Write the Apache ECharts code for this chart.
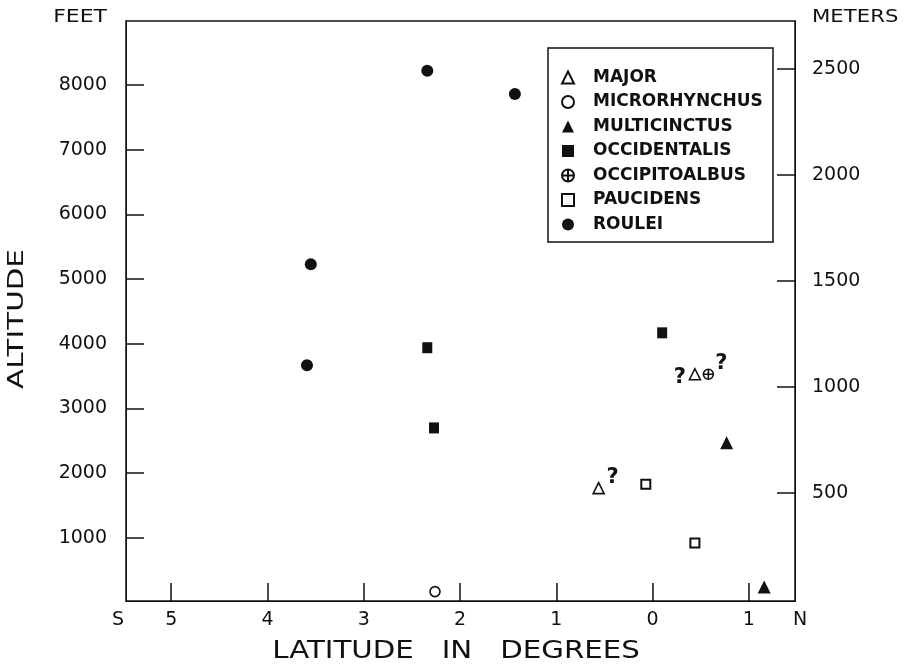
<!DOCTYPE html>
<html>
<head>
<meta charset="utf-8">
<script src="https://cdn.jsdelivr.net/npm/echarts@6/dist/echarts.min.js"></script>
<style>html,body{margin:0;padding:0;background:#fff}#c{width:910px;height:672px}</style>
</head>
<body>
<div id="c"></div>
<script>
// ---- data (latitude in degrees, N positive / S negative; altitude in feet) ----
const majorLat = [0.44, -0.56];
const majorFt = [3530, 1770];
const majorQueried = [true, true];
const microLat = [-2.26];
const microFt = [170];
const multiLat = [0.77, 1.16];
const multiFt = [2470, 240];
const occidLat = [-2.34, -2.27, 0.10];
const occidFt = [3940, 2700, 4170];
const occipLat = [0.58];
const occipFt = [3530];
const occipQueried = [true];
const paucLat = [-0.07, 0.44];
const paucFt = [1830, 920];
const rouleiLat = [-2.34, -1.43, -3.55, -3.59];
const rouleiFt = [8220, 7860, 5230, 3670];

const latTicks = [-5, -4, -3, -2, -1, 0, 1];
const latTickLabels = ['5', '4', '3', '2', '1', '0', '1'];
const latEndLabels = ['S', 'N'];
const feetTicks = [1000, 2000, 3000, 4000, 5000, 6000, 7000, 8000];
const meterTicks = [500, 1000, 1500, 2000, 2500];

const seriesNames = ['MAJOR', 'MICRORHYNCHUS', 'MULTICINCTUS', 'OCCIDENTALIS', 'OCCIPITOALBUS', 'PAUCIDENS', 'ROULEI'];

// ---- layout ----
const xMin = -5.47, xMax = 1.48;
const FONT = 'DejaVu Sans';
const INK = '#111';

function pts(lat, ft, queried, qOffsets) {
  return lat.map((x, i) => {
    const item = { value: [x, ft[i]] };
    if (queried && queried[i]) {
      item.label = {
        show: true, formatter: '?', position: 'inside',
        offset: qOffsets[i], fontSize: 21, fontWeight: 'bold',
        fontFamily: FONT, color: INK
      };
    }
    return item;
  });
}

const openStyle = { color: '#fff', borderColor: INK, borderWidth: 1.6, opacity: 1 };
const fillStyle = { color: INK, borderWidth: 0, opacity: 1 };
const oplusPath = 'path://M10,0A10,10,0,1,1,10,20A10,10,0,1,1,10,0ZM0,10L20,10M10,0L10,20';

const series = [
  { name: seriesNames[0], symbol: 'triangle', symbolSize: [11, 11], itemStyle: openStyle,
    data: pts(majorLat, majorFt, majorQueried, [[-15, 3], [14, -11]]) },
  { name: seriesNames[1], symbol: 'circle', symbolSize: 10, itemStyle: openStyle,
    data: pts(microLat, microFt) },
  { name: seriesNames[2], symbol: 'triangle', symbolSize: [13, 13], itemStyle: fillStyle,
    data: pts(multiLat, multiFt) },
  { name: seriesNames[3], symbol: 'rect', symbolSize: [10, 11], itemStyle: fillStyle,
    data: pts(occidLat, occidFt) },
  { name: seriesNames[4], symbol: oplusPath, symbolSize: 10, itemStyle: { color: '#fff', borderColor: INK, borderWidth: 1.6, opacity: 1 },
    data: pts(occipLat, occipFt, occipQueried, [[13, -11]]) },
  { name: seriesNames[5], symbol: 'rect', symbolSize: 9, itemStyle: { color: '#fff', borderColor: INK, borderWidth: 2, opacity: 1 },
    data: pts(paucLat, paucFt) },
  { name: seriesNames[6], symbol: 'circle', symbolSize: 12, itemStyle: fillStyle,
    data: pts(rouleiLat, rouleiFt) }
].map(s => Object.assign({ type: 'scatter', emphasis: { disabled: true }, z: 5 }, s));

const labelValues = [xMin].concat(latTicks, [xMax]);
const labelTexts = [latEndLabels[0]].concat(latTickLabels, [latEndLabels[1]]);

const tickLine = { color: INK, width: 1.5 };
const labelFont = { fontSize: 19, fontFamily: FONT, color: INK };
const plain = v => String(Math.round(v));

const chart = echarts.init(document.getElementById('c'), null, { renderer: 'canvas' });
chart.setOption({
  animation: false,
  backgroundColor: '#fff',
  grid: { left: 126, right: 115, top: 21, bottom: 71, show: true, borderColor: INK, borderWidth: 1.5, containLabel: false },
  xAxis: {
    type: 'value', min: xMin, max: xMax,
    axisLine: { show: true, onZero: false, lineStyle: { color: INK, width: 1 } },
    axisTick: { show: true, inside: true, length: 18, customValues: latTicks, lineStyle: tickLine },
    axisLabel: Object.assign({
      customValues: labelValues, margin: 10, showMinLabel: true, showMaxLabel: true,
      formatter: function (v) {
        let best = 0;
        labelValues.forEach((lv, i) => { if (Math.abs(lv - v) < Math.abs(labelValues[best] - v)) best = i; });
        const t = labelTexts[best];
        if (best === 0) return '{s|' + t + '}';
        if (best === labelValues.length - 1) return '{n|' + t + '}';
        return t;
      },
      rich: {
        s: Object.assign({ padding: [0, 16, 0, 0] }, labelFont),
        n: Object.assign({ padding: [0, 0, 0, 10] }, labelFont)
      }
    }, labelFont),
    splitLine: { show: false }
  },
  yAxis: [
    {
      type: 'value', position: 'left', min: 25, max: 8990,
      axisLine: { show: true, onZero: false, lineStyle: { color: INK, width: 1 } },
      axisTick: { show: true, inside: true, length: 18, customValues: feetTicks, lineStyle: tickLine },
      axisLabel: Object.assign({ customValues: feetTicks, margin: 19, padding: [0, 0, 10, 0], formatter: plain }, labelFont),
      splitLine: { show: false }
    },
    {
      type: 'value', position: 'right', min: -9, max: 2727,
      axisLine: { show: true, onZero: false, lineStyle: { color: INK, width: 1 } },
      axisTick: { show: true, inside: true, length: 18, customValues: meterTicks, lineStyle: tickLine },
      axisLabel: Object.assign({ customValues: meterTicks, margin: 17, padding: [0, 0, 10, 0], formatter: plain }, labelFont),
      splitLine: { show: false }
    }
  ],
  legend: {
    data: seriesNames,
    orient: 'vertical', left: 561, top: 69,
    itemWidth: 12, itemHeight: 12, itemGap: 7.5,
    padding: 0, selectedMode: false,
    textStyle: { fontSize: 17, fontWeight: 'bold', fontFamily: FONT, color: INK, lineHeight: 12, padding: [0, 0, 0, 14] }
  },
  graphic: [
    { type: 'rect', shape: { x: 548, y: 48, width: 225, height: 194 },
      style: { fill: 'none', stroke: INK, lineWidth: 1.5 }, z: 10, silent: true },
    { type: 'text', x: 107, y: 17, scaleX: 1.22, silent: true,
      style: { text: 'FEET', align: 'right', verticalAlign: 'middle', font: '18px "DejaVu Sans"', fill: INK } },
    { type: 'text', x: 812, y: 17, scaleX: 1.18, silent: true,
      style: { text: 'METERS', align: 'left', verticalAlign: 'middle', font: '18px "DejaVu Sans"', fill: INK } },
    { type: 'text', x: 17.5, y: 319, rotation: Math.PI / 2, scaleX: 1.4, silent: true,
      style: { text: 'ALTITUDE', align: 'center', verticalAlign: 'middle', font: '21px "DejaVu Sans"', fill: INK } },
    { type: 'text', x: 456, y: 652, scaleX: 1.22, silent: true,
      style: { text: 'LATITUDE   IN   DEGREES', align: 'center', verticalAlign: 'middle', font: '24px "DejaVu Sans"', fill: INK } }
  ],
  series: series
});
</script>
</body>
</html>
